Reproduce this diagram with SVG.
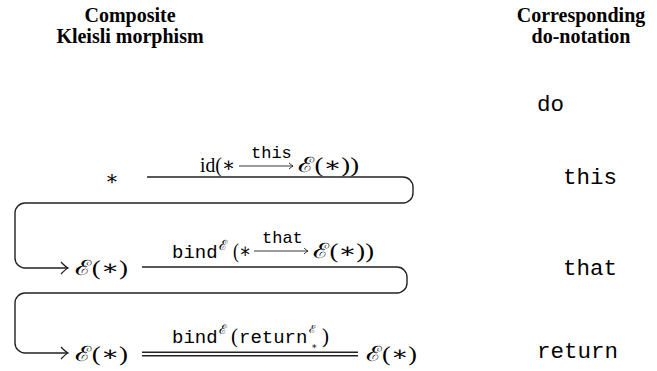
<svg xmlns="http://www.w3.org/2000/svg" width="657" height="371" viewBox="0 0 657 371">
<defs>
<style>
.h{font-family:"Liberation Serif","Times New Roman",serif;font-weight:bold;font-size:20px;text-anchor:middle;fill:#000}
.m{font-family:"Liberation Serif","DejaVu Serif",serif;font-size:21px;fill:#000}
.s{font-family:"DejaVu Serif","Liberation Serif",serif;font-size:20px;fill:#000}
.tt{font-family:"Liberation Mono","DejaVu Sans Mono",monospace;font-size:22.5px;fill:#000}
.lt{font-family:"Liberation Mono","DejaVu Sans Mono",monospace;font-size:19px;fill:#000}
.st{font-family:"Liberation Mono","DejaVu Sans Mono",monospace;font-size:17px;fill:#000}
.ln{fill:none;stroke:#222;stroke-width:1.4}
.thin{fill:none;stroke:#222;stroke-width:0.9}
</style>
<marker id="ah" markerWidth="14" markerHeight="14" refX="0" refY="0" viewBox="-9 -7 11 14" orient="auto" markerUnits="userSpaceOnUse">
<path d="M-7,-6 Q-2.5,-1.2 0,0 Q-2.5,1.2 -7,6" fill="none" stroke="#222" stroke-width="1.3"/>
</marker>
<marker id="sah" markerWidth="8" markerHeight="8" refX="0" refY="0" viewBox="-5 -4 6 8" orient="auto" markerUnits="userSpaceOnUse">
<path d="M-4,-3 Q-1.5,-0.7 0,0 Q-1.5,0.7 -4,3" fill="none" stroke="#222" stroke-width="0.9"/>
</marker>
</defs>
<rect width="657" height="371" fill="#fff"/>

<g id="heading-left">
<text class="h" x="130" y="22">Composite</text>
<text class="h" x="130" y="43">Kleisli morphism</text>
</g>
<g id="heading-right">
<text class="h" x="581" y="22">Corresponding</text>
<text class="h" x="581" y="43">do-notation</text>
</g>

<g id="do-lines">
<text class="tt" x="537" y="111">do</text>
<text class="tt" x="563" y="184">this</text>
<text class="tt" x="563" y="275">that</text>
<text class="tt" x="537" y="358">return</text>
</g>

<g id="node-star">
<text class="s" x="112" y="185" text-anchor="middle">∗</text>
</g>
<g id="node-E1">
<text class="m" x="75" y="275" textLength="53" lengthAdjust="spacingAndGlyphs">ℰ(∗)</text>
</g>
<g id="node-E2">
<text class="m" x="75" y="361" textLength="53" lengthAdjust="spacingAndGlyphs">ℰ(∗)</text>
</g>
<g id="node-E3">
<text class="m" x="366" y="361" textLength="51" lengthAdjust="spacingAndGlyphs">ℰ(∗)</text>
</g>

<g id="connectors">
<path class="ln" d="M147,177 H403 a10,10 0 0 1 10,10 v6 a10,10 0 0 1 -10,10 H25 a10,10 0 0 0 -10,10 v45 a10,10 0 0 0 10,10 H68" marker-end="url(#ah)"/>
<path class="ln" d="M142,267 H397 a10,10 0 0 1 10,10 v6 a10,10 0 0 1 -10,10 H25 a10,10 0 0 0 -10,10 v40 a10,10 0 0 0 10,10 H68" marker-end="url(#ah)"/>
<path class="ln" d="M142,352.3 H358 M142,355.8 H358"/>
</g>

<g id="label-1">
<text class="m" x="200" y="172" textLength="35" lengthAdjust="spacingAndGlyphs">id(∗</text>
<line class="thin" x1="239" y1="166" x2="293" y2="166" marker-end="url(#sah)"/>
<text class="st" x="251" y="158">this</text>
<text class="m" x="298" y="172" textLength="61" lengthAdjust="spacingAndGlyphs">ℰ(∗))</text>
</g>
<g id="label-2">
<text class="lt" x="172" y="258">bind<tspan class="m" x="219" y="250" style="font-size:14px">ℰ</tspan></text>
<text class="m" x="233" y="258" textLength="18" lengthAdjust="spacingAndGlyphs">(∗</text>
<line class="thin" x1="254" y1="251" x2="308" y2="251" marker-end="url(#sah)"/>
<text class="st" x="262" y="243">that</text>
<text class="m" x="313" y="258" textLength="61" lengthAdjust="spacingAndGlyphs">ℰ(∗))</text>
</g>
<g id="label-3">
<text class="lt" x="172" y="343">bind<tspan class="m" x="219" y="334" style="font-size:13px">ℰ</tspan><tspan class="m" x="231" y="343">(</tspan><tspan x="239" y="343">return</tspan><tspan class="m" x="309" y="333" style="font-size:11px">ℰ</tspan><tspan class="m" x="311" y="349" style="font-size:9px">∗</tspan><tspan class="m" x="322" y="343">)</tspan></text>
</g>
</svg>
